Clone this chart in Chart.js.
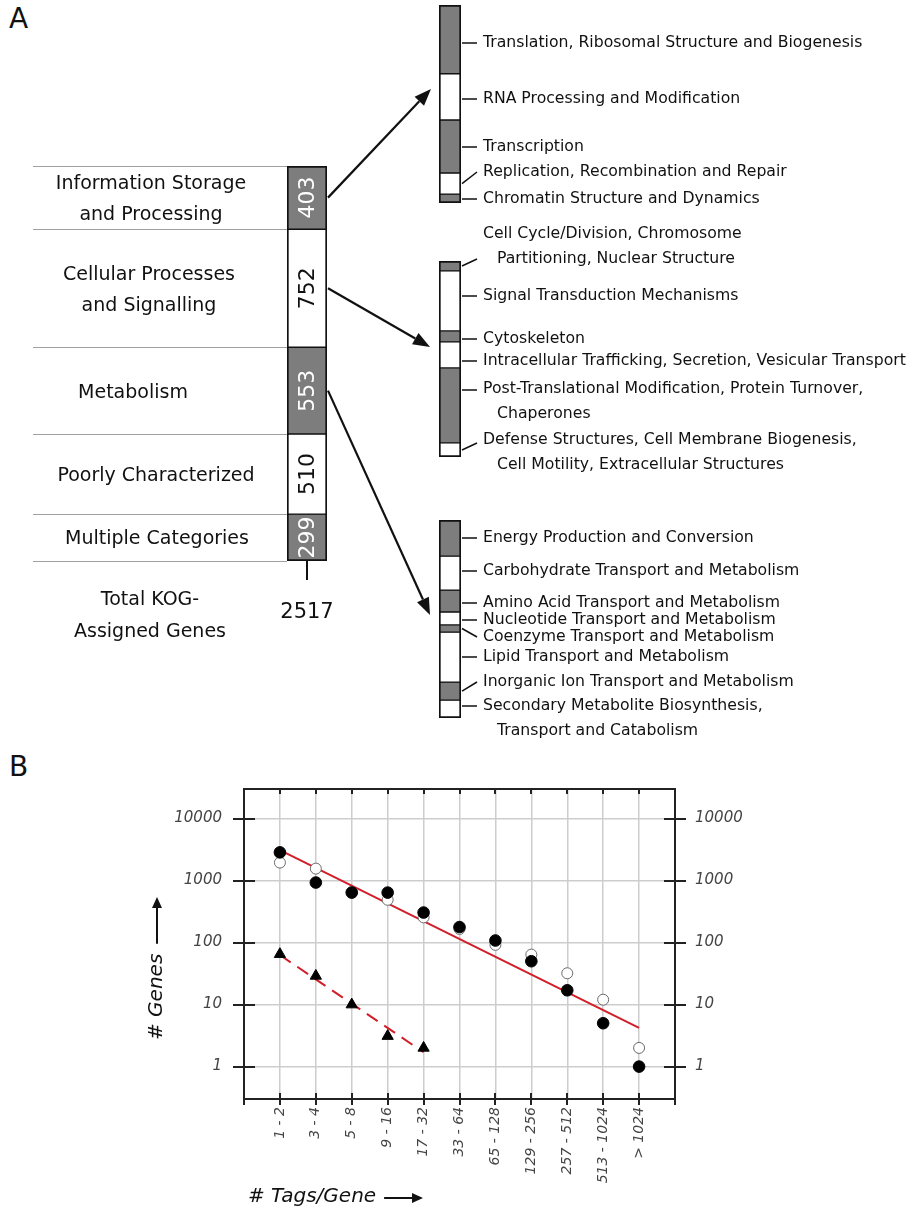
<!DOCTYPE html>
<html>
<head>
<meta charset="utf-8">
<script src="https://cdn.jsdelivr.net/npm/chart.js@4.4.1/dist/chart.umd.min.js"></script>
<style>
  body { margin: 0; background: #fff; }
  #page { position: relative; width: 912px; height: 1209px; overflow: hidden; background: #fff; }
  .box { position: absolute; }
  .panel { position: absolute; font: 28px "DejaVu Sans"; color: #111; }
</style>
</head>
<body>
<div id="page">
  <div class="panel" style="left:9px;top:2px">A</div>
  <div class="panel" style="left:9px;top:750px">B</div>
  <div class="box" style="left:0;top:0;width:440px;height:660px"><canvas id="kogMain"></canvas></div>
  <div class="box" style="left:420px;top:0;width:492px;height:215px"><canvas id="kogInfo"></canvas></div>
  <div class="box" style="left:420px;top:215px;width:492px;height:270px"><canvas id="kogCell"></canvas></div>
  <div class="box" style="left:420px;top:500px;width:492px;height:250px"><canvas id="kogMeta"></canvas></div>
  <div class="box" style="left:0;top:740px;width:912px;height:469px"><canvas id="tagChart"></canvas></div>
</div>
<script>
// ---- panel A data ----
const mainNames = [
  ['Information Storage', 'and Processing'],
  ['Cellular Processes', 'and Signalling'],
  ['Metabolism'],
  ['Poorly Characterized'],
  ['Multiple Categories']
];
const mainCounts = [403, 752, 553, 510, 299];

const infoNames = [
  ['Translation, Ribosomal Structure and Biogenesis'],
  ['RNA Processing and Modification'],
  ['Transcription'],
  ['Replication, Recombination and Repair'],
  ['Chromatin Structure and Dynamics']
];
const infoCounts = [140, 94, 108, 43, 18];

const cellNames = [
  ['Cell Cycle/Division, Chromosome', 'Partitioning, Nuclear Structure'],
  ['Signal Transduction Mechanisms'],
  ['Cytoskeleton'],
  ['Intracellular Trafficking, Secretion, Vesicular Transport'],
  ['Post-Translational Modification, Protein Turnover,', 'Chaperones'],
  ['Defense Structures, Cell Membrane Biogenesis,', 'Cell Motility, Extracellular Structures']
];
const cellCounts = [38, 230, 42, 100, 288, 54];

const metaNames = [
  ['Energy Production and Conversion'],
  ['Carbohydrate Transport and Metabolism'],
  ['Amino Acid Transport and Metabolism'],
  ['Nucleotide Transport and Metabolism'],
  ['Coenzyme Transport and Metabolism'],
  ['Lipid Transport and Metabolism'],
  ['Inorganic Ion Transport and Metabolism'],
  ['Secondary Metabolite Biosynthesis,', 'Transport and Catabolism']
];
const metaCounts = [101, 95, 61, 36, 20, 140, 50, 50];

// ---- panel B data ----
const tagBins = ['1 - 2', '3 - 4', '5 - 8', '9 - 16', '17 - 32', '33 - 64', '65 - 128',
  '129 - 256', '257 - 512', '513 - 1024', '> 1024'];
const genesFilled = [2850, 930, 640, 640, 305, 178, 108, 50, 17, 5, 1];
const genesOpen = [1950, 1560, 650, 490, 255, 166, 92, 64, 32, 12, 2];
const genesTriangle = [65, 29, 10, 3.1, 2];
const fitSolid = [3100, 4.2];   // at bins 1-2 and > 1024
const fitDashed = [63, 1.7];    // at bins 1-2 and 17-32
const geneTicks = [1, 10, 100, 1000, 10000];

// ---- layout (page pixels) ----
const mainNameX = [151, 149, 133, 156, 157];
const arrowTips = [[431, 89], [430, 347], [430, 615]];
const infoTextY = [43, 99, 147, 172, 199];
const infoLeadY = [43, 99, 147, 172, 199];
const cellTextY = [234, 296, 339, 361, 389, 440];
const cellLeadY = [259, 296, 339, 361, 390, 443];
const metaTextY = [538, 571, 603, 620, 637, 657, 682, 706];
const metaLeadY = [538, 571, 603, 620, 637, 657, 682, 706];

const GRAY = '#7d7d7d';
const INK = '#111';
const RED = '#d11f2a';
const FONT = '"DejaVu Sans"';

function shade(i) { return i % 2 === 0 ? GRAY : '#ffffff'; }
function sum(a) { return a.reduce((s, v) => s + v, 0); }

function stackDatasets(counts) {
  return counts.map((v, i) => ({
    data: [v],
    backgroundColor: shade(i),
    borderColor: INK,
    borderWidth: { left: 2, right: 2, top: i === 0 ? 2 : 1, bottom: i === counts.length - 1 ? 2 : 1 },
    borderSkipped: false,
    barPercentage: 1,
    categoryPercentage: 1
  }));
}

function segmentBounds(chart, counts) {
  const ys = chart.scales.y;
  const out = [];
  let acc = 0;
  counts.forEach(v => {
    out.push([ys.getPixelForValue(acc), ys.getPixelForValue(acc + v)]);
    acc += v;
  });
  return out;
}

function drawArrow(ctx, x1, y1, x2, y2, head, half) {
  const a = Math.atan2(y2 - y1, x2 - x1);
  const bx = x2 - head * Math.cos(a), by = y2 - head * Math.sin(a);
  ctx.beginPath();
  ctx.moveTo(x1, y1);
  ctx.lineTo(bx, by);
  ctx.stroke();
  ctx.beginPath();
  ctx.moveTo(x2, y2);
  ctx.lineTo(bx + half * Math.sin(a), by - half * Math.cos(a));
  ctx.lineTo(bx - half * Math.sin(a), by + half * Math.cos(a));
  ctx.closePath();
  ctx.fill();
}

const mainDecor = {
  id: 'mainDecor',
  afterDraw(chart) {
    const ctx = chart.ctx;
    const bar = chart.getDatasetMeta(0).data[0];
    const left = bar.x - bar.width / 2, right = bar.x + bar.width / 2;
    const segs = segmentBounds(chart, mainCounts);
    ctx.save();
    // separators running out to the left
    ctx.strokeStyle = '#a0a0a0';
    ctx.lineWidth = 1;
    const ys = [segs[0][0]].concat(segs.map(s => s[1]));
    ys.forEach(y => {
      ctx.beginPath();
      ctx.moveTo(33, Math.round(y) + 0.5);
      ctx.lineTo(left, Math.round(y) + 0.5);
      ctx.stroke();
    });
    // category names
    ctx.fillStyle = INK;
    ctx.textAlign = 'center';
    ctx.textBaseline = 'middle';
    ctx.font = '19px ' + FONT;
    segs.forEach((s, i) => {
      const lines = mainNames[i];
      const mid = (s[0] + s[1]) / 2 + 2;
      lines.forEach((t, k) => ctx.fillText(t, mainNameX[i], mid + (k - (lines.length - 1) / 2) * 31));
    });
    // counts inside the bar
    ctx.font = '22px ' + FONT;
    segs.forEach((s, i) => {
      ctx.save();
      ctx.translate(bar.x, (s[0] + s[1]) / 2);
      ctx.rotate(-Math.PI / 2);
      ctx.fillStyle = i % 2 === 0 ? '#fff' : INK;
      ctx.fillText(String(mainCounts[i]), 0, 1);
      ctx.restore();
    });
    // total
    const bottom = segs[segs.length - 1][1];
    ctx.strokeStyle = INK;
    ctx.lineWidth = 2;
    ctx.beginPath();
    ctx.moveTo(bar.x, bottom);
    ctx.lineTo(bar.x, bottom + 19);
    ctx.stroke();
    ctx.font = '21px ' + FONT;
    ctx.fillText(String(sum(mainCounts)), bar.x, 613);
    ctx.font = '19px ' + FONT;
    ctx.fillText('Total KOG-', 150, 600);
    ctx.fillText('Assigned Genes', 150, 632);
    // arrows to the breakdown bars
    ctx.fillStyle = INK;
    ctx.lineWidth = 2.2;
    arrowTips.forEach((tip, i) => {
      const y = (segs[i][0] + segs[i][1]) / 2;
      drawArrow(ctx, right + 1, y, tip[0], tip[1], 17, 6.5);
    });
    ctx.restore();
  }
};

function sideDecor(id, names, counts, textY, leadY) {
  return {
    id,
    afterDraw(chart) {
      const ctx = chart.ctx;
      const top0 = chart.canvas.parentNode.offsetTop;
      const bar = chart.getDatasetMeta(0).data[0];
      const right = bar.x + bar.width / 2;
      const segs = segmentBounds(chart, counts);
      ctx.save();
      ctx.strokeStyle = INK;
      ctx.fillStyle = INK;
      ctx.lineWidth = 1.5;
      ctx.font = '15.7px ' + FONT;
      ctx.textAlign = 'left';
      ctx.textBaseline = 'middle';
      segs.forEach((s, i) => {
        const ly = leadY[i] - top0;
        const inside = ly > s[0] + 2 && ly < s[1] - 2;
        const sy = inside ? ly : (s[0] + s[1]) / 2;
        ctx.beginPath();
        ctx.moveTo(right + 1, sy);
        ctx.lineTo(right + 16, ly);
        ctx.stroke();
        names[i].forEach((t, k) => {
          ctx.fillText(t, right + 22 + (k > 0 ? 14 : 0), textY[i] - top0 + k * 25);
        });
      });
      ctx.restore();
    }
  };
}

function stackChart(canvasId, counts, padding, decor) {
  return new Chart(document.getElementById(canvasId), {
    type: 'bar',
    data: { labels: [''], datasets: stackDatasets(counts) },
    options: {
      responsive: true,
      maintainAspectRatio: false,
      animation: false,
      layout: { padding },
      scales: {
        x: { stacked: true, display: false },
        y: { stacked: true, display: false, reverse: true, min: 0, max: sum(counts) }
      },
      plugins: { legend: { display: false }, tooltip: { enabled: false } }
    },
    plugins: [decor]
  });
}

stackChart('kogMain', mainCounts, { left: 287, right: 113, top: 166, bottom: 99 }, mainDecor);
stackChart('kogInfo', infoCounts, { left: 19, right: 451, top: 5, bottom: 12 },
  sideDecor('infoDecor', infoNames, infoCounts, infoTextY, infoLeadY));
stackChart('kogCell', cellCounts, { left: 19, right: 451, top: 46, bottom: 28 },
  sideDecor('cellDecor', cellNames, cellCounts, cellTextY, cellLeadY));
stackChart('kogMeta', metaCounts, { left: 19, right: 451, top: 20, bottom: 32 },
  sideDecor('metaDecor', metaNames, metaCounts, metaTextY, metaLeadY));

// ---- panel B ----
const tagFrame = {
  id: 'tagFrame',
  afterDraw(chart) {
    const ctx = chart.ctx;
    const { left, right, top, bottom } = chart.chartArea;
    const ys = chart.scales.y, xs = chart.scales.x;
    ctx.save();
    ctx.strokeStyle = '#222';
    ctx.lineWidth = 2;
    ctx.strokeRect(left, top, right - left, bottom - top);
    geneTicks.forEach(v => {
      const py = Math.round(ys.getPixelForValue(v));
      ctx.beginPath();
      ctx.moveTo(left - 11, py); ctx.lineTo(left + 11, py);
      ctx.moveTo(right - 11, py); ctx.lineTo(right + 11, py);
      ctx.stroke();
    });
    for (let i = 0; i <= tagBins.length + 1; i++) {
      const px = Math.round(xs.getPixelForValue(i));
      ctx.beginPath();
      ctx.moveTo(px, bottom - 6); ctx.lineTo(px, bottom + 6);
      if (i > 0 && i <= tagBins.length) { ctx.moveTo(px, top); ctx.lineTo(px, top + 5); }
      ctx.stroke();
    }
    // axis titles
    ctx.fillStyle = INK;
    ctx.strokeStyle = INK;
    ctx.font = 'italic 20px ' + FONT;
    ctx.textAlign = 'left';
    ctx.textBaseline = 'middle';
    ctx.save();
    ctx.translate(157, 300);
    ctx.rotate(-Math.PI / 2);
    ctx.fillText('# Genes', 0, 0);
    const gw = ctx.measureText('# Genes').width;
    drawArrow(ctx, gw + 10, 0, 143, 0, 11, 5);
    ctx.restore();
    ctx.fillText('# Tags/Gene', 248, 457);
    const tw = ctx.measureText('# Tags/Gene').width;
    drawArrow(ctx, 248 + tw + 8, 458, 423, 458, 11, 5);
    ctx.restore();
  }
};

const tickFont = { family: FONT, style: 'italic', size: 15 };

new Chart(document.getElementById('tagChart'), {
  type: 'scatter',
  data: {
    datasets: [
      {
        label: 'Fit (all)',
        data: [{ x: 1, y: fitSolid[0] }, { x: tagBins.length, y: fitSolid[1] }],
        showLine: true, borderColor: RED, borderWidth: 2, pointRadius: 0, order: 4
      },
      {
        label: 'Fit (triangles)',
        data: [{ x: 1, y: fitDashed[0] }, { x: genesTriangle.length, y: fitDashed[1] }],
        showLine: true, borderColor: RED, borderWidth: 2, borderDash: [13, 8], pointRadius: 0, order: 4
      },
      {
        label: 'Open',
        data: genesOpen.map((v, i) => ({ x: i + 1, y: v })),
        pointRadius: 5.5, pointBackgroundColor: '#fff', pointBorderColor: '#6a6a6a', pointBorderWidth: 1, order: 3
      },
      {
        label: 'Filled',
        data: genesFilled.map((v, i) => ({ x: i + 1, y: v })),
        pointRadius: 5.8, pointBackgroundColor: '#000', pointBorderColor: '#000', pointBorderWidth: 1, order: 2
      },
      {
        label: 'Triangles',
        data: genesTriangle.map((v, i) => ({ x: i + 1, y: v })),
        pointStyle: 'triangle', pointRadius: 6.5, pointBackgroundColor: '#000', pointBorderColor: '#000', order: 1
      }
    ]
  },
  options: {
    responsive: true,
    maintainAspectRatio: false,
    animation: false,
    layout: { padding: { left: 0, right: 0, top: 49, bottom: 0 } },
    scales: {
      x: {
        type: 'linear', min: 0, max: tagBins.length + 1,
        afterBuildTicks: s => { s.ticks = Array.from({ length: tagBins.length + 2 }, (_, i) => ({ value: i })); },
        afterFit: s => { s.height = 110; },
        grid: { color: '#cdcdcd', lineWidth: 1.5, drawTicks: false },
        border: { display: false },
        ticks: {
          autoSkip: false, minRotation: 90, maxRotation: 90, padding: 8,
          color: '#444', font: { family: FONT, style: 'italic', size: 14 },
          callback: v => tagBins[v - 1] || ''
        }
      },
      y: {
        type: 'logarithmic', position: 'left', min: 0.3, max: 30000,
        afterBuildTicks: s => { s.ticks = geneTicks.map(v => ({ value: v })); },
        afterFit: s => { s.width = 244; },
        grid: { color: '#cdcdcd', lineWidth: 1.5, drawTicks: false },
        border: { display: false },
        ticks: { padding: 22, color: '#444', font: tickFont, callback: v => String(v) }
      },
      y2: {
        type: 'logarithmic', position: 'right', min: 0.3, max: 30000,
        afterBuildTicks: s => { s.ticks = geneTicks.map(v => ({ value: v })); },
        afterFit: s => { s.width = 237; },
        grid: { display: false, drawTicks: false },
        border: { display: false },
        ticks: { padding: 20, color: '#444', font: tickFont, callback: v => String(v) }
      }
    },
    plugins: { legend: { display: false }, tooltip: { enabled: false } }
  },
  plugins: [tagFrame]
});
</script>
</body>
</html>
